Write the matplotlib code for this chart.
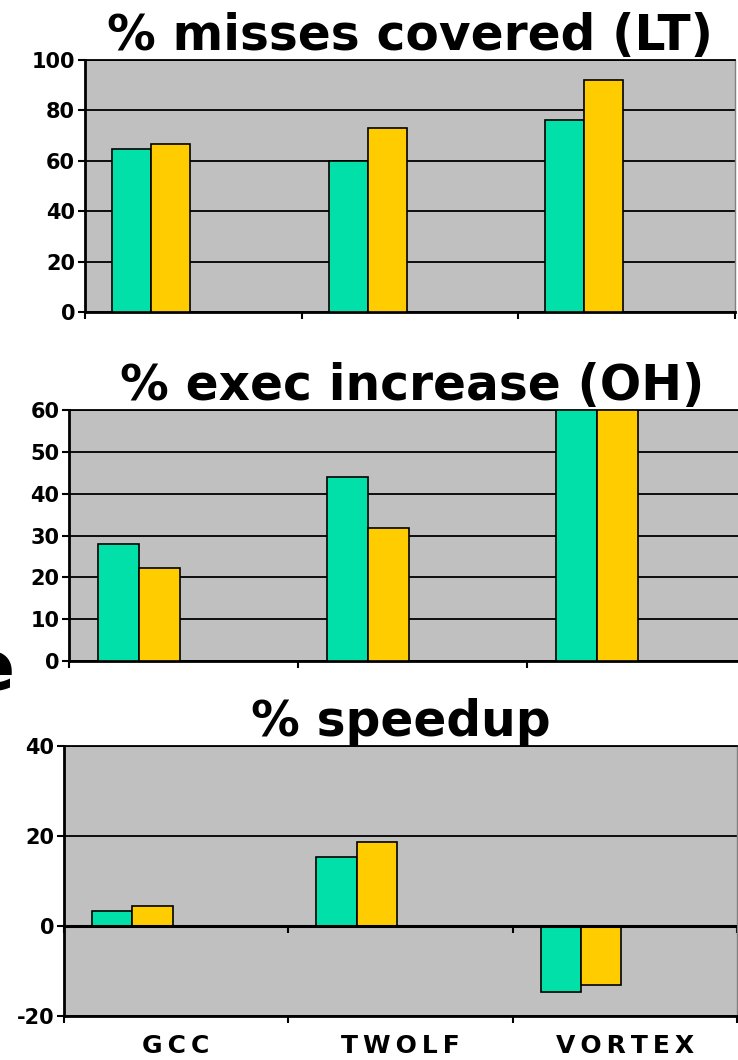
import matplotlib
matplotlib.use("Agg")
import matplotlib.pyplot as plt
import numpy as np

# ---------------------------------------------------------------------------
# Data
# ---------------------------------------------------------------------------
benchmarks = ["GCC", "TWOLF", "VORTEX"]

misses_a = [64.5, 60.1, 76.2]
misses_b = [66.6, 73.2, 92.2]

exec_a = [28.0, 44.0, 60.0]
exec_b = [22.2, 31.9, 60.0]

speedup_a = [3.4, 15.3, -14.7]
speedup_b = [4.4, 18.6, -13.2]

titles = ["% misses covered (LT)", "% exec increase (OH)", "% speedup"]
yticks_list = [np.arange(0, 101, 20), np.arange(0, 61, 10), [-20, 0, 20, 40]]
ylims = [(0, 100), (0, 60), (-20, 40)]

GREEN = "#00E0A8"
YELLOW = "#FFCC00"
GRAY = "#C0C0C0"

plt.rcParams.update({
    "font.family": "DejaVu Sans",
    "font.weight": "bold",
    "axes.unicode_minus": False,
})

fig = plt.figure(figsize=(7.38, 10.60), dpi=100)

# axes rectangles in figure fractions
rects = [
    [0.115, 0.7057, 0.881, 0.2377],
    [0.0935, 0.3764, 0.931, 0.2368],
    [0.0867, 0.0415, 0.912, 0.2547],
]
series = [(misses_a, misses_b), (exec_a, exec_b), (speedup_a, speedup_b)]
pads = [6, 6, 7]

x = np.arange(len(benchmarks))
w = 0.18
off = 0.125

axes = []
for i, rect in enumerate(rects):
    ax = fig.add_axes(rect)
    axes.append(ax)
    ax.set_facecolor(GRAY)
    a, b = series[i]
    ax.bar(x + off, a, width=w, align="edge", color=GREEN,
           edgecolor="black", linewidth=1.2, zorder=3)
    ax.bar(x + off + w, b, width=w, align="edge", color=YELLOW,
           edgecolor="black", linewidth=1.2, zorder=3)
    ax.set_xlim(0, 3)
    ax.set_ylim(*ylims[i])
    ax.set_yticks(yticks_list[i])
    ax.yaxis.grid(True, color="black", linewidth=1.3, zorder=1)
    ax.set_axisbelow(True)
    ax.set_xticks([0, 1, 2, 3])
    ax.set_xticklabels([])
    ax.tick_params(axis="both", direction="out", length=5, width=1.5,
                   labelsize=15, pad=2)
    for lab in ax.get_yticklabels():
        lab.set_fontweight("bold")
    for s in ["left", "bottom"]:
        ax.spines[s].set_linewidth(2)
    ax.spines["top"].set_linewidth(1.3)
    ax.spines["right"].set_linewidth(1.0)
    ax.spines["right"].set_color("#808080")
    ax.set_title(titles[i], fontsize=35, fontweight="bold", pad=pads[i])

# speedup panel: zero line with ticks, category names below
ax3 = axes[2]
ax3.axhline(0, color="black", linewidth=2.2, zorder=4)
zero_ax = ax3.secondary_xaxis(1 / 3)
zero_ax.set_xticks([0, 1, 2, 3])
zero_ax.set_xticklabels([])
zero_ax.tick_params(direction="out", length=5, width=1.5)
zero_ax.spines["bottom"].set_visible(False)
zero_ax.spines["top"].set_visible(False)
spaced = ["\u2009".join(name) for name in benchmarks]
ax3.set_xticks(x + 0.5, minor=True)
ax3.set_xticklabels(spaced, minor=True, fontsize=18, fontweight="bold")
ax3.tick_params(axis="x", which="minor", length=0, pad=13)

# cut-off side label letter at the left edge
fig.text(14 / 738, 0.349, "e", ha="right", va="baseline",
         fontsize=49, fontweight="bold")

fig.savefig("out.png", dpi=100)
